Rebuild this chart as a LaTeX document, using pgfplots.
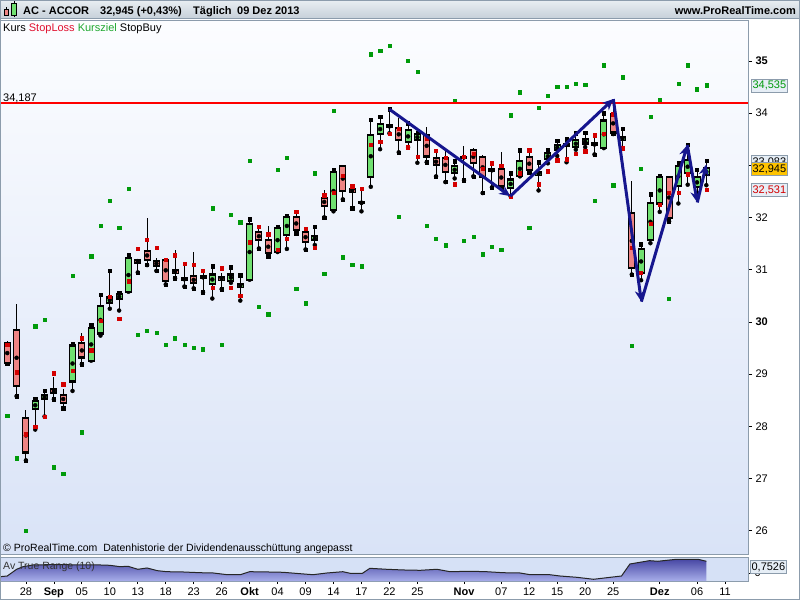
\documentclass[border=0pt]{standalone}
\usepackage{fontspec}
\setmainfont{Liberation Sans}
\usepackage{pgfplots}
\pgfplotsset{compat=1.18}
\usepackage{pgfplotstable}
\usetikzlibrary{arrows.meta}
\definecolor{panelborder}{HTML}{8C9CAC}
\definecolor{candlered}{HTML}{EE8484}
\definecolor{candlegreen}{HTML}{70E070}
\definecolor{slred}{HTML}{D40000}
\definecolor{kzgreen}{HTML}{009A0A}
\definecolor{arrowblue}{HTML}{16168E}
\definecolor{atrbg}{HTML}{D6E1F6}
\definecolor{atrtop}{HTML}{4848A4}
\definecolor{atrbot}{HTML}{A8AEEA}
\definecolor{bgtop}{HTML}{FCFDFF}
\definecolor{bgbot}{HTML}{D9E3F7}
\definecolor{hdtop}{HTML}{E9EEF2}
\definecolor{hdbot}{HTML}{C7D1DA}
\definecolor{boxbg}{HTML}{E6EEF6}
\definecolor{lastbg}{HTML}{FFC400}
\newcommand\fa{\fontsize{11}{13}\selectfont}
\newcommand\fb{\fontsize{10.5}{12}\selectfont}

\pgfplotstableread{
i o h l c sl kz
0 29.59 29.64 29.20 29.22 29.57 28.21
1 29.85 30.34 28.58 28.78 29.04 27.39
2 28.155 28.31 27.35 27.50 27.85 26.01
3 28.33 28.525 27.94 28.48 28.00 29.92
4 28.53 28.69 28.19 28.595 28.19 30.05
5 28.71 28.95 28.52 28.645 29.02 27.22
6 28.595 28.71 28.35 28.455 28.81 27.10
7 28.86 29.58 28.68 29.55 29.07 30.89
8 29.59 29.78 29.19 29.32 29.69 27.89
9 29.26 29.955 29.26 29.88 29.46 31.26
10 29.78 30.53 29.74 30.30 30.03 31.85
11 30.37 30.99 30.255 30.47 30.49 32.32
12 30.435 30.555 30.22 30.53 30.07 31.81
13 30.58 31.28 30.58 31.22 30.78 32.56
14 31.19 31.21 30.95 31.14 31.41 29.75
15 31.36 31.99 31.09 31.19 31.58 29.84
16 31.16 31.22 30.98 31.08 31.43 29.80
17 31.19 31.19 30.72 30.79 31.19 29.57
18 31.00 31.38 30.84 30.93 31.28 29.69
19 30.84 31.07 30.68 30.80 31.12 29.57
20 30.875 31.34 30.645 30.74 31.09 29.51
21 30.875 30.99 30.57 30.84 30.99 29.48
22 30.72 31.07 30.45 30.91 30.65 32.18
23 30.86 30.93 30.63 30.80 31.03 29.57
24 30.79 31.05 30.75 30.91 30.65 32.06
25 30.665 30.895 30.41 30.72 30.51 31.91
26 30.81 31.97 30.81 31.87 31.53 33.09
27 31.72 31.83 31.41 31.565 31.83 30.30
28 31.565 31.84 31.26 31.32 31.68 30.15
29 31.34 31.82 31.34 31.795 31.39 32.91
30 31.67 32.04 31.40 32.01 31.60 33.14
31 32.005 32.07 31.70 31.77 32.12 30.64
32 31.72 31.755 31.39 31.53 31.79 30.36
33 31.565 31.83 31.475 31.64 31.43 32.85
34 32.37 32.53 32.005 32.23 32.43 30.93
35 32.15 32.925 32.12 32.87 32.48 34.04
36 32.98 32.98 32.35 32.515 32.81 31.24
37 32.54 32.54 32.18 32.485 32.60 31.09
38 32.28 32.55 32.12 32.29 32.55 31.07
39 32.77 33.88 32.59 33.58 33.39 35.13
40 33.60 33.94 33.31 33.79 33.46 35.20
41 33.73 34.075 33.615 33.77 33.61 35.30
42 33.71 33.90 33.25 33.48 33.71 32.02
43 33.44 33.81 33.35 33.67 33.35 35.00
44 33.48 33.63 33.05 33.60 33.16 34.80
45 33.58 33.73 33.06 33.17 33.51 31.85
46 33.14 33.29 32.79 33.00 33.28 31.60
47 33.14 33.30 32.68 32.88 33.14 31.47
48 32.85 33.08 32.75 32.98 32.64 34.23
49 33.16 33.37 32.715 33.15 33.17 31.55
50 33.29 33.33 32.79 33.04 33.23 31.64
51 33.155 33.20 32.47 32.77 32.93 31.30
52 32.925 33.04 32.58 32.89 33.04 31.45
53 32.925 33.25 32.57 32.61 33.00 31.39
54 32.56 32.85 32.41 32.73 32.41 33.96
55 32.79 33.29 32.79 33.08 32.85 34.40
56 33.155 33.29 32.87 32.91 33.29 31.81
57 32.81 33.06 32.52 32.87 32.64 34.11
58 33.12 33.29 33.04 33.23 32.89 34.34
59 33.29 33.48 33.18 33.385 33.10 34.50
60 33.38 33.50 33.06 33.405 33.12 34.50
61 33.35 33.615 33.30 33.48 33.23 34.57
62 33.42 33.63 33.35 33.50 33.27 34.55
63 33.42 33.58 33.21 33.385 33.58 32.33
64 33.33 34.00 33.33 33.86 33.61 34.92
65 33.98 34.20 33.60 33.63 33.98 32.62
66 33.48 33.71 33.33 33.54 33.33 34.69
67 32.08 32.71 30.91 31.03 31.43 29.55
68 30.93 31.49 30.80 31.39 30.95 32.93
69 31.565 32.45 31.51 32.275 31.89 33.94
70 32.27 32.80 32.11 32.77 32.24 34.25
71 32.77 32.77 31.93 32.00 32.48 30.45
72 32.60 33.04 32.27 32.98 32.47 34.57
73 32.85 33.40 32.63 33.10 32.83 34.92
74 32.58 32.925 32.47 32.77 nan 34.46
75 32.81 33.083 32.62 32.945 32.531 34.535
}\candles

\pgfplotstableread{
x a
-0.78 0.420
0 0.435
1 0.580
1.7 0.636
2.76 0.673
4.26 0.679
6.4 0.679
7.8 0.673
9.95 0.673
11 0.666
12.1 0.636
12.95 0.645
14 0.580
15 0.608
16.1 0.550
17.1 0.528
18.85 0.522
20.7 0.506
22.1 0.500
23.6 0.463
25 0.463
26 0.528
27.9 0.522
29.6 0.515
31.4 0.485
32.8 0.463
34.3 0.500
36 0.528
36.8 0.493
38.1 0.493
38.9 0.601
40.7 0.580
42.5 0.565
44.3 0.558
46.1 0.580
47.5 0.528
49.7 0.537
51.4 0.528
53.2 0.506
55 0.500
56.1 0.463
58.2 0.463
59.3 0.435
61.1 0.407
62.9 0.364
64.7 0.407
65.9 0.435
66.8 0.694
68.9 0.766
69.8 0.753
71.8 0.796
74.1 0.796
75 0.753
}\atr

\begin{document}
\begin{tikzpicture}[x=1pt,y=1pt]
\fill[white] (0,0) rectangle (800,600);
% header bar
\shade[top color=hdtop, bottom color=hdbot] (0,582) rectangle (800,600);
\draw[panelborder] (0,582) -- (800,582);
% icon
\draw[black, line width=0.6pt] (6.2,584) -- (6.2,593);
\filldraw[fill=candlered, draw=black, line width=0.6pt] (3.8,584.5) rectangle (8.6,590.5);
\draw[black, line width=0.6pt] (13.8,582.5) -- (13.8,598.5);
\filldraw[fill=candlegreen, draw=black, line width=0.6pt] (11.4,585) rectangle (16.2,596.5);
\node[anchor=base west, inner sep=0, font=\fa\bfseries] at (23,585) {AC - ACCOR};
\node[anchor=base west, inner sep=0, font=\fa\bfseries] at (100,585) {32,945 (+0,43\%)};
\node[anchor=base west, inner sep=0, font=\fa\bfseries] at (193,585) {Täglich};
\node[anchor=base west, inner sep=0, font=\fa\bfseries] at (237,585) {09 Dez 2013};
\node[anchor=base east, inner sep=0, font=\fa\bfseries] at (796,585) {www.ProRealTime.com};

\begin{axis}[
  at={(0pt,46pt)}, anchor=south west, scale only axis,
  width=748pt, height=534pt,
  xmin=-0.78, xmax=79.47, ymin=25.556, ymax=35.785,
  axis background/.style={shade, top color=bgtop, bottom color=bgbot},
  axis line style={draw=panelborder},
  xtick=\empty,
  ytick={26,27,28,29,30,31,32,33,34,35},
  yticklabels={26,27,28,29,\textbf{30},31,32,33,34,\textbf{35}},
  ytick pos=right, yticklabel pos=right,
  tick align=outside, major tick length=4pt,
  tick style={black, line width=0.7pt},
  yticklabel style={font=\fa, anchor=west},
  clip mode=individual,
]
% Kursziel (green)
\addplot[only marks, mark=square*, mark size=1.6pt, kzgreen, mark options={draw=kzgreen, fill=kzgreen}] table[x=i, y=kz] {\candles};
% wicks
\addplot[only marks, mark=none, error bars/.cd, y dir=plus, y explicit, error mark=none,
  error bar style={draw=black, line width=1pt}] table[x=i, y=l, y error expr=\thisrow{h}-\thisrow{l}] {\candles};
% body outlines
\addplot[only marks, mark=none, error bars/.cd, y dir=both, y explicit, error mark=none,
  error bar style={draw=black, line width=7pt}] table[x=i, y expr=(\thisrow{o}+\thisrow{c})/2, y error expr=abs(\thisrow{c}-\thisrow{o})/2+0.02] {\candles};
% green bodies
\addplot[only marks, mark=none, error bars/.cd, y dir=both, y explicit, error mark=none,
  error bar style={draw=candlegreen, line width=5pt}] table[x=i, y expr={\thisrow{c}>=\thisrow{o} ? (\thisrow{o}+\thisrow{c})/2 : nan}, y error expr={max(abs(\thisrow{c}-\thisrow{o})/2-0.02,0)}] {\candles};
% red bodies
\addplot[only marks, mark=none, error bars/.cd, y dir=both, y explicit, error mark=none,
  error bar style={draw=candlered, line width=5pt}] table[x=i, y expr={\thisrow{c}<\thisrow{o} ? (\thisrow{o}+\thisrow{c})/2 : nan}, y error expr={max(abs(\thisrow{c}-\thisrow{o})/2-0.02,0)}] {\candles};
% StopBuy (black)
\addplot[only marks, mark=square*, mark size=1.6pt, black] table[x=i, y expr={\thisrow{c}>=\thisrow{o} ? \thisrow{h} : \thisrow{l}}] {\candles};
% StopLoss (red)
\addplot[only marks, mark=square*, mark size=1.6pt, slred, mark options={draw=slred, fill=slred}] table[x=i, y=sl] {\candles};
% horizontal line
\addplot[red, line width=2pt] coordinates {(-0.78,34.187) (79.47,34.187)};
% trend arrows
\addplot[arrowblue, line width=3pt, -{Stealth[length=11pt,width=10pt]}] coordinates {(41.0,34.075) (53.97,32.41)};
\addplot[arrowblue, line width=3pt, -{Stealth[length=11pt,width=10pt]}] coordinates {(53.97,32.41) (65.02,34.27)};
\addplot[arrowblue, line width=3pt, -{Stealth[length=11pt,width=10pt]}] coordinates {(65.02,34.27) (68.03,30.39)};
\addplot[arrowblue, line width=3pt, -{Stealth[length=11pt,width=10pt]}] coordinates {(68.03,30.39) (72.96,33.39)};
\addplot[arrowblue, line width=3pt, -{Stealth[length=11pt,width=10pt]}] coordinates {(72.96,33.39) (74.03,32.29)};
\addplot[arrowblue, line width=3pt, -{Stealth[length=11pt,width=10pt]}] coordinates {(74.03,32.29) (75.0,33.02)};
\end{axis}

\begin{axis}[
  at={(0pt,19pt)}, anchor=south west, scale only axis,
  width=748pt, height=24pt,
  xmin=-0.78, xmax=79.47, ymin=0.327, ymax=0.845,
  axis background/.style={fill=atrbg},
  axis line style={draw=panelborder},
  xtick={2,5,8,11,14,17,20,23,26,29,32,35,38,41,44,49,53,56,59,62,65,70,74,77},
  xticklabels={28,\textbf{Sep},05,10,13,18,23,26,\textbf{Okt},04,09,14,17,22,25,\textbf{Nov},07,12,15,20,25,\textbf{Dez},06,11},
  xtick pos=bottom, xticklabel pos=bottom,
  ytick={0.5}, yticklabels={{0,5}},
  ytick pos=right, yticklabel pos=right,
  tick align=outside, major tick length=3pt,
  tick style={black, line width=0.7pt},
  xticklabel style={font=\fa, inner sep=3.5pt},
  yticklabel style={font=\fa, anchor=west},
]
\addplot[draw=none, top color=atrtop, bottom color=atrbot] table[x=x, y=a] {\atr} -- (axis cs:75,0.327) -- (axis cs:-0.78,0.327) -- cycle;
\addplot[black!85, line width=1pt] table[x=x, y=a] {\atr};
\end{axis}

% texts inside panels
\node[anchor=base west, inner sep=0, font=\fa] at (3,568.3) {Kurs \textcolor[HTML]{E0102F}{StopLoss} \textcolor[HTML]{20A830}{Kursziel} StopBuy};
\node[anchor=base west, inner sep=0, font=\fa] at (3,498.5) {34,187};
\node[anchor=base west, inner sep=0, font=\fb] at (3,48.5) {© ProRealTime.com\ \ Datenhistorie der Dividendenausschüttung angepasst};
\node[anchor=base west, inner sep=0, font=\fb, text=black!80] at (3,31) {Av True Range (10)};

% value boxes
\tikzset{vbox/.style={draw=panelborder, line width=0.8pt, fill=boxbg, inner sep=1pt, minimum height=13pt, minimum width=36pt, anchor=west, font=\fa}}
\node[vbox, text=kzgreen] at (751,514.5) {34,535};
\node[vbox] at (751,438) {33,083};
\node[vbox, fill=lastbg] at (751,431) {32,945};
\node[vbox, text=slred] at (751,410) {32,531};
\node[vbox] at (750,33) {0,7526};

% frame
\draw[panelborder, line width=1pt] (0.5,0.5) rectangle (799.5,599.5);
\pgfresetboundingbox
\path[use as bounding box] (0,0) rectangle (800,600);
\end{tikzpicture}
\end{document}
